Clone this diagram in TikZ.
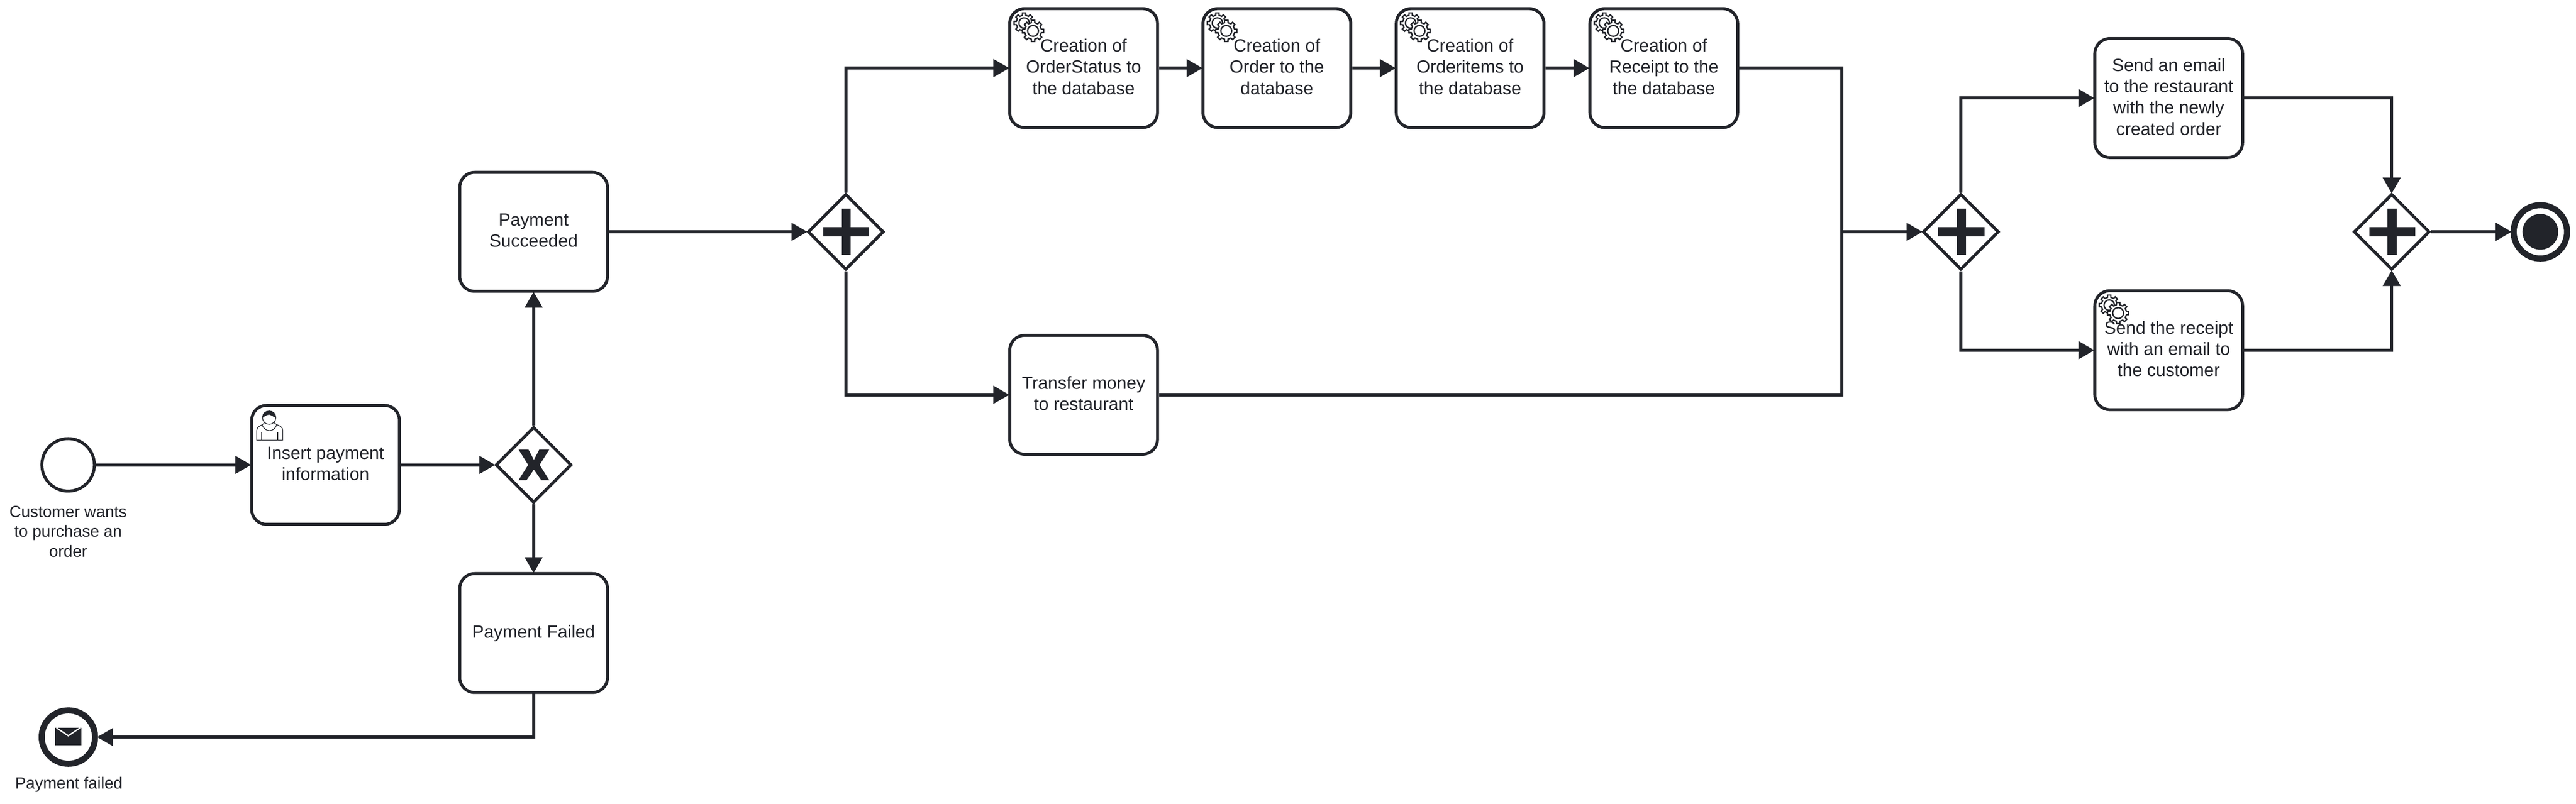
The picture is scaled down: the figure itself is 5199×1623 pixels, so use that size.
\documentclass[tikz,border=0pt]{standalone}
\usepackage{fontspec}
\setmainfont{Liberation Sans}
\usetikzlibrary{arrows.meta,shapes.geometric,calc}
\definecolor{ink}{HTML}{22242A}
\tikzset{
  taskbox/.style={draw=ink,fill=white,text=ink,line width=0.06cm,rounded corners=0.3cm,
    minimum width=2.98cm,minimum height=2.40cm,inner sep=0pt,align=center,text depth=1.6pt,
    font=\fontsize{10.16pt}{12.2pt}\selectfont},
  gatebox/.style={diamond,aspect=1,draw=ink,fill=white,line width=0.06cm,inner sep=0pt,
    minimum width=1.53cm,minimum height=1.53cm},
  startev/.style={circle,draw=ink,fill=white,line width=0.06cm,inner sep=0pt,minimum size=1.06cm},
  endev/.style={circle,draw=ink,fill=white,line width=0.123cm,inner sep=0pt,minimum size=1.077cm},
  evlabel/.style={text=ink,align=center,inner sep=0pt,font=\fontsize{9.33pt}{11.38pt}\selectfont},
  flow/.style={draw=ink,line width=0.063cm,shorten >=-0.02cm,-{Triangle[length=0.32cm,width=0.35cm]}},
  flowplain/.style={draw=ink,line width=0.063cm},
  gearicon/.pic={
    \foreach \cx/\cy/\ro/\ri/\rc in {32/32/20.5/16/10.5,50/48/21.6/17/11}{
      \draw[ink,fill=white,line width=0.027cm,line join=miter,shift={(\cx,\cy)}]
        (-9:\ro) \foreach \a in {0,45,...,315}{
          -- (\a-9:\ro) -- (\a+9:\ro) -- (\a+12:\ri) -- (\a+33:\ri)
        } -- cycle;
      \draw[ink,line width=0.027cm,shift={(\cx,\cy)}] (0,0) circle (\rc);
    }
  },
  usericon/.pic={
    \begin{scope}[ink,line width=0.014cm]
      \draw[fill=white] (13.3,73.3) -- (13.3,53.3) .. controls (13.3,47) and (20,44) .. (25,41.7) -- (30,36.7)
        -- (46.7,36.7) -- (53.3,41.7) .. controls (60,44) and (65.7,47) .. (65.7,53.3) -- (65.7,73.3) -- cycle;
      \draw[fill=white] (38.3,27.7) circle (13.5);
      \fill (25.2,28) .. controls (24,18) and (31,14.2) .. (38.3,14.2)
        .. controls (46,14.2) and (53,19) .. (51.6,28)
        .. controls (48,27) and (44,23) .. (38.3,21.7) .. controls (33,22) and (29,25) .. (25.2,28) -- cycle;
      \draw (24.3,41.7) .. controls (28,58) and (50,58) .. (53.3,41.7);
      \draw (23.3,56.7) -- (23.3,72.7);
      \draw (55.7,57.3) -- (55.7,72.7);
    \end{scope}
  },
  plusmark/.pic={
    \fill[ink] (-46.5,-9) rectangle (46.5,9);
    \fill[ink] (-9.2,-46.8) rectangle (9.2,46.8);
  },
  xmark/.pic={
    \fill[ink] (-31,-31) -- (-11,-31) -- (0,-10) -- (11,-31) -- (31,-31) -- (11.5,0) -- (31,31)
      -- (15,31) -- (0,9.5) -- (-15,31) -- (-31,31) -- (-11.5,0) -- cycle;
  }
}
\begin{document}
\begin{tikzpicture}[x=0.01cm,y=-0.01cm]
\path[use as bounding box,fill=white] (0,0) rectangle (5199,1623);

\node[startev] (start) at (137.5,938.5) {};
\node[evlabel] (startlabel) at (137.5,1073) {Customer wants\\to purchase an\\order};
\node[taskbox] (insert) at (657,938.5) {Insert payment\\information};
\node[gatebox] (xor) at (1077,938.5) {};
\node[taskbox] (ok) at (1077,468) {Payment\\Succeeded};
\node[taskbox] (fail) at (1077,1278) {Payment Failed};
\node[endev] (mail) at (138,1488) {};
\node[evlabel] (maillabel) at (139,1584) {Payment failed};

\node[gatebox] (gwa) at (1707,468) {};
\node[taskbox] (csa) at (2187,137.5) {Creation of\\OrderStatus to\\the database};
\node[taskbox] (csb) at (2577,137.5) {Creation of\\Order to the\\database};
\node[taskbox] (csc) at (2967,137.5) {Creation of\\Orderitems to\\the database};
\node[taskbox] (csd) at (3358,137.5) {Creation of\\Receipt to the\\the database};
\node[taskbox] (transfer) at (2187,797) {Transfer money\\to restaurant};
\coordinate (join) at (3717,468);
\node[gatebox] (gwb) at (3957.5,468) {};
\node[taskbox] (email) at (4377,198) {Send an email\\to the restaurant\\with the newly\\created order};
\node[taskbox] (receipt) at (4377,707) {Send the receipt\\with an email to\\the customer};
\node[gatebox] (gwc) at (4827,468) {};
\node[endev] (finish) at (5127,468) {};

% icons
\pic at (insert.north west) {usericon};
\foreach \n in {csa,csb,csc,csd,receipt}{\pic at (\n.north west) {gearicon};}
\pic at ($(xor.center)+(0.5,0)$) {xmark};
\pic at ($(gwa.center)+(1,0)$) {plusmark};
\pic at ($(gwb.center)+(1,0)$) {plusmark};
\pic at ($(gwc.center)+(1,0)$) {plusmark};
\fill[ink] (finish.center) circle (36);
\fill[ink] ($(mail.center)+(-27,-18.5)$) rectangle ($(mail.center)+(26.7,16.5)$);
\draw[white,line width=0.027cm] ($(mail.center)+(-24,-18.5)$) -- ($(mail.center)+(-0.2,-2.7)$) -- ($(mail.center)+(23.5,-18.5)$);

% connectors
\draw[flow] (start) -- (insert);
\draw[flow] (insert) -- (xor.west);
\draw[flow] (xor.north) -- (ok.south);
\draw[flow] (xor.south) -- (fail.north);
\draw[flow] (fail.south) |- (mail.east);
\draw[flow] (ok.east) -- (gwa.west);
\draw[flow] (gwa.north) |- (csa.west);
\draw[flow] (gwa.south) |- (transfer.west);
\draw[flow] (csa) -- (csb);
\draw[flow] (csb) -- (csc);
\draw[flow] (csc) -- (csd);
\draw[flowplain] (csd.east) -| (join);
\draw[flowplain] (transfer.east) -| (join);
\draw[flow] (join) -- (gwb.west);
\draw[flow] (gwb.north) |- (email.west);
\draw[flow] (gwb.south) |- (receipt.west);
\draw[flow] (email.east) -| (gwc.north);
\draw[flow] (receipt.east) -| (gwc.south);
\draw[flow] (gwc.east) -- (finish.west);
\end{tikzpicture}
\end{document}
